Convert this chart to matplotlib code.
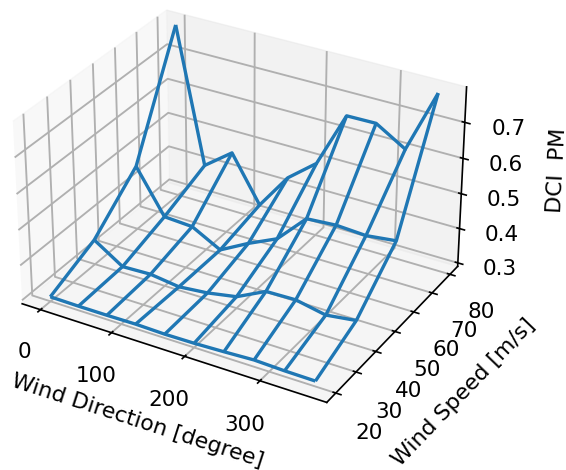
import numpy as np
import matplotlib
matplotlib.use('Agg')
import matplotlib.pyplot as plt
from mpl_toolkits.mplot3d import Axes3D

wind_dir = [0, 40, 80, 120, 160, 200, 240, 280, 320, 360]
wind_speed = [20, 40, 60, 80]

# one list per wind speed
dci_20 = [0.303, 0.302, 0.302, 0.303, 0.301, 0.302, 0.305, 0.309, 0.306, 0.305]
dci_40 = [0.361, 0.308, 0.311, 0.300, 0.308, 0.323, 0.364, 0.366, 0.349, 0.360]
dci_60 = [0.474, 0.350, 0.345, 0.301, 0.345, 0.383, 0.465, 0.471, 0.466, 0.476]
dci_80 = [0.787, 0.402, 0.462, 0.331, 0.435, 0.500, 0.658, 0.659, 0.609, 0.786]

plt.rcParams['font.size'] = 15.5
plt.rcParams['axes.labelsize'] = 15.8
plt.rcParams['grid.linewidth'] = 1.35
plt.rcParams['axes.linewidth'] = 1.2
for k in ['xtick.major.width', 'ytick.major.width']:
    plt.rcParams[k] = 1.2

fig = plt.figure(figsize=(5.66, 4.70), dpi=100)
ax = fig.add_axes([-0.0827, 0.069, 1.0, 1.0], projection='3d')
ax.set_box_aspect((4.56, 3.72, 2.73), zoom=1.025)

X, Y = np.meshgrid(wind_dir, wind_speed)
Z = np.array([dci_20, dci_40, dci_60, dci_80])
ax.plot_wireframe(X, Y, Z, color='tab:blue', linewidth=2.4)

ax.set_xlabel('Wind Direction [degree]', labelpad=17)
ax.set_ylabel('Wind Speed [m/s]', labelpad=18)
ax.set_zlabel('DCI  PM', labelpad=18)
ax.set_xticks([0, 100, 200, 300])
ax.set_yticks([20, 30, 40, 50, 60, 70, 80])
ax.set_zticks([0.3, 0.4, 0.5, 0.6, 0.7])
ax.tick_params(axis='x', pad=10.5)
ax.tick_params(axis='y', pad=10.5)
ax.tick_params(axis='z', pad=9.5)

fig.savefig('out.png', dpi=100)
